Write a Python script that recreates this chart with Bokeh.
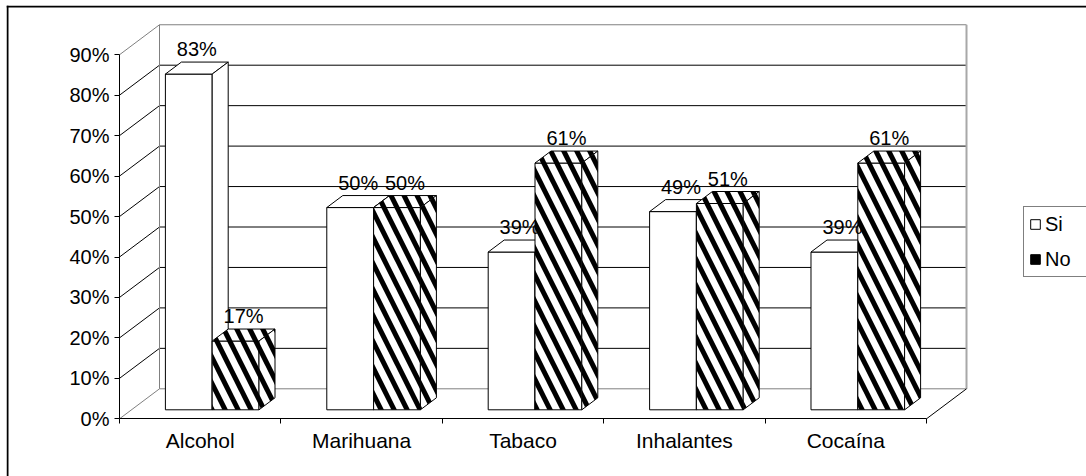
import numpy as np
from bokeh.plotting import figure
from bokeh.models import (Range1d, LinearAxis, FixedTicker, PrintfTickFormatter,
                          Legend, LegendItem, Span)
from bokeh.core.properties import value
from bokeh.embed import file_html
from bokeh.resources import INLINE

# ---------------- data ----------------
categories = ["Alcohol", "Marihuana", "Tabaco", "Inhalantes", "Cocaína"]
si_values = [83, 50, 39, 49, 39]
no_values = [17, 50, 61, 51, 61]
series_names = ["Si", "No"]
y_ticks = [0, 10, 20, 30, 40, 50, 60, 70, 80, 90]

# ---------------- layout / style ----------------
FONT = "Liberation Sans"
FS = "20px"
FS_CAT = "21px"
W, H = 1086, 476
FRAME_L, FRAME_T = 6, 5
AXIS_X_PX, AXIS_Y_PX = 119.0, 418.3      # screen position of the value 0 / first category edge
PX_CAT, PX_PCT = 161.4, 4.045            # px per category, px per percent
DEPTH_PX_X, DEPTH_PX_Y = 40.0, 30.0      # oblique depth of the walls

x_start = (FRAME_L - AXIS_X_PX) / PX_CAT
x_end = (W - AXIS_X_PX) / PX_CAT
y_end = (AXIS_Y_PX - FRAME_T) / PX_PCT
y_start = (AXIS_Y_PX - H) / PX_PCT
DX = DEPTH_PX_X / PX_CAT
DY = DEPTH_PX_Y / PX_PCT

n = len(categories)
GAP, BW = 0.21, 0.29                     # gap before first bar, bar width (category units)
F_FRONT, F_BACK = 0.3, 0.7               # bar depth inside the box
YMAX = y_ticks[-1]

p = figure(width=W, height=H, output_backend="svg", toolbar_location=None,
           x_range=Range1d(x_start, x_end), y_range=Range1d(y_start, y_end),
           x_axis_type=None, y_axis_type=None,
           min_border_left=FRAME_L, min_border_top=FRAME_T,
           min_border_right=0, min_border_bottom=0)
p.outline_line_color = None
p.background_fill_color = "white"
p.border_fill_color = "white"

GRAY = "#808080"

# ---------------- walls ----------------
inner = y_ticks[1:-1]
p.segment(x0=[DX] * len(inner), x1=[n + DX] * len(inner),
          y0=[v + DY for v in inner], y1=[v + DY for v in inner],
          line_color="black", line_width=1)
p.segment(x0=[0] * len(inner), x1=[DX] * len(inner),
          y0=inner, y1=[v + DY for v in inner], line_color="black", line_width=1)
p.segment(x0=[0, 0], x1=[DX, DX], y0=[0, YMAX], y1=[DY, YMAX + DY],
          line_color=GRAY, line_width=1)
p.segment(x0=[DX, DX, DX], x1=[n + DX, n + DX, DX],
          y0=[YMAX + DY, DY, DY], y1=[YMAX + DY, DY, YMAX + DY],
          line_color=GRAY, line_width=1)
p.segment(x0=[n + DX], x1=[n + DX], y0=[DY], y1=[YMAX + DY],
          line_color="#a8a8a8", line_width=2)
p.segment(x0=[n], x1=[n + DX], y0=[0], y1=[DY], line_color="black", line_width=1)

# ---------------- bars ----------------
ddx = (F_BACK - F_FRONT) * DX
ddy = (F_BACK - F_FRONT) * DY


def faces(values, k):
    xs, ys, lx, ly = [], [], [], []
    for i, v in enumerate(values):
        x0 = i + GAP + k * BW + F_FRONT * DX
        x1 = x0 + BW
        b = F_FRONT * DY
        t = b + v
        xs += [[x0, x1, x1, x0], [x0, x1, x1 + ddx, x0 + ddx], [x1, x1 + ddx, x1 + ddx, x1]]
        ys += [[b, b, t, t], [t, t, t + ddy, t + ddy], [b, b + ddy, t + ddy, t]]
        lx.append((x0 + x1) / 2 + ddx / 2)
        ly.append(t + ddy)
    return xs, ys, lx, ly


sx, sy, slx, sly = faces(si_values, 0)
nx, ny, nlx, nly = faces(no_values, 1)

p.patches(sx, sy, fill_color="white", line_color="black", line_width=1)
p.patches(nx, ny, fill_color="white", line_color="black", line_width=1,
          hatch_pattern="\\", hatch_color="black", hatch_weight=5, hatch_scale=26)

p.text(x=slx + nlx, y=sly + nly,
       text=[f"{v}%" for v in si_values] + [f"{v}%" for v in no_values],
       text_align="center", text_baseline="alphabetic", y_offset=-13,
       text_font=value(FONT), text_font_size=FS, text_color="black")

# ---------------- axes ----------------
yax = LinearAxis(fixed_location=0, bounds=(0, YMAX),
                 ticker=FixedTicker(ticks=y_ticks),
                 formatter=PrintfTickFormatter(format="%d%%"),
                 major_tick_in=0, major_tick_out=5, minor_tick_line_color=None,
                 axis_line_color="black", major_tick_line_color="black",
                 major_label_standoff=5,
                 major_label_text_font=FONT, major_label_text_font_size=FS,
                 major_label_text_color="black")
p.add_layout(yax, "left")

centers = [i + 0.5 for i in range(n)]
xax = LinearAxis(fixed_location=0, bounds=(0, n),
                 ticker=FixedTicker(ticks=centers, minor_ticks=list(range(n + 1))),
                 major_label_overrides={c: lab for c, lab in zip(centers, categories)},
                 major_tick_line_color=None, major_tick_in=0, major_tick_out=5,
                 minor_tick_in=0, minor_tick_out=5, minor_tick_line_color="black",
                 axis_line_color="black", major_label_standoff=5,
                 major_label_text_font=FONT, major_label_text_font_size=FS_CAT,
                 major_label_text_color="black")
p.add_layout(xax, "below")

# ---------------- legend (swatch-only renderers, not drawn in the plot) ----------------
nan = float("nan")
r_si = p.quad(left=[nan], right=[nan], top=[nan], bottom=[nan],
              fill_color="white", line_color="black")
r_no = p.quad(left=[nan], right=[nan], top=[nan], bottom=[nan],
              fill_color="black", line_color="black")
legend = Legend(items=[LegendItem(label=series_names[0], renderers=[r_si]),
                       LegendItem(label=series_names[1], renderers=[r_no])],
                location=(1023 - FRAME_L, H - 277), margin=0, padding=5,
                glyph_width=12, glyph_height=12, label_height=24, label_width=36,
                label_standoff=4, spacing=11,
                border_line_color="black", border_line_width=1,
                background_fill_color="white", background_fill_alpha=1,
                label_text_font=FONT, label_text_font_size=FS, label_text_color="black")
p.add_layout(legend)

# ---------------- outer chart border (top / left) ----------------
p.add_layout(Span(location=x_start + 1.0 / PX_CAT, dimension="height",
                  line_color="black", line_width=2))
p.add_layout(Span(location=y_end - 1.0 / PX_PCT, dimension="width",
                  line_color="black", line_width=2))

open("out.html", "w").write(file_html(p, INLINE))
